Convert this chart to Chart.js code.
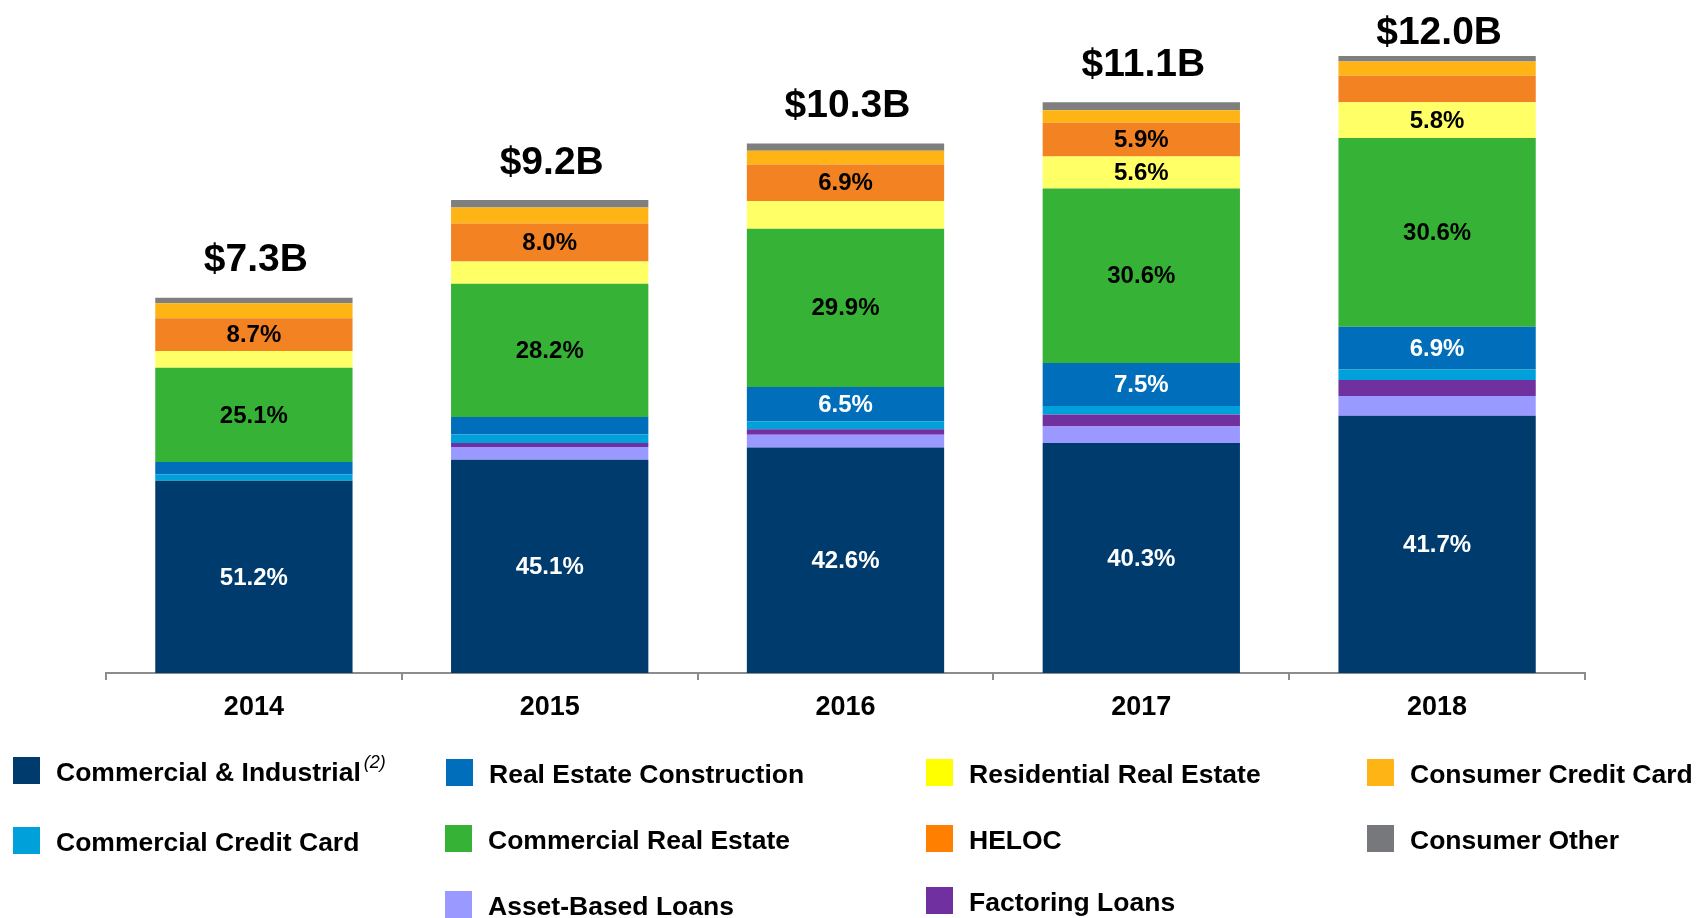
<!DOCTYPE html>
<html>
<head>
<meta charset="utf-8">
<script src="https://cdn.jsdelivr.net/npm/chart.js@4.4.1/dist/chart.umd.min.js"></script>
<style>
  html, body { margin: 0; padding: 0; background: #fff; }
  #wrap { position: relative; width: 1696px; height: 918px; overflow: hidden; }
  #c { position: absolute; left: 0; top: 0; }
  .lg { position: absolute; font-family: "Liberation Sans", Arial, sans-serif; font-weight: bold; font-size: 26.5px; color: #000; white-space: nowrap; }
  .sw { position: absolute; width: 27px; height: 27px; }
  .sup { font-style: italic; font-weight: normal; font-size: 18px; position: relative; top: -13px; margin-left: 3px; }
</style>
</head>
<body>
<div id="wrap">
  <canvas id="c" width="1696" height="918"></canvas>
  <div id="legend"></div>
</div>
<script>
// ---- Data (share of total loans, %) ----
const years = ['2014', '2015', '2016', '2017', '2018'];
const totals = [7.3, 9.2, 10.3, 11.1, 12.0];           // $B
const totalLabels = ['$7.3B', '$9.2B', '$10.3B', '$11.1B', '$12.0B'];

const commercialIndustrial = [51.2, 45.1, 42.6, 40.3, 41.7];
const assetBasedLoans      = [0.0, 2.7, 2.4, 2.9, 3.2];
const factoringLoans       = [0.0, 0.8, 1.0, 2.1, 2.6];
const commercialCreditCard = [1.7, 1.8, 1.5, 1.5, 1.7];
const realEstateConstr     = [3.3, 3.7, 6.5, 7.5, 6.9];
const commercialRealEstate = [25.1, 28.2, 29.9, 30.6, 30.6];
const residentialRealEst   = [4.5, 4.7, 5.2, 5.6, 5.8];
const heloc                = [8.7, 8.0, 6.9, 5.9, 4.3];
const consumerCreditCard   = [4.0, 3.4, 2.6, 2.2, 2.3];
const consumerOther        = [1.5, 1.6, 1.4, 1.4, 0.9];

// which segments carry a printed percentage
const labelCI  = [true, true, true, true, true];
const labelREC = [false, false, true, true, true];
const labelCRE = [true, true, true, true, true];
const labelRES = [false, false, false, true, true];
const labelHEL = [true, true, true, true, false];
const none     = [false, false, false, false, false];

const series = [
  { name: 'Commercial & Industrial', pct: commercialIndustrial, color: '#003B6E', lg: '#003B6E', show: labelCI,  txt: '#fff' },
  { name: 'Asset-Based Loans',       pct: assetBasedLoans,      color: '#9999FF', lg: '#9999FF', show: none,     txt: '#000' },
  { name: 'Factoring Loans',         pct: factoringLoans,       color: '#7030A0', lg: '#7030A0', show: none,     txt: '#000' },
  { name: 'Commercial Credit Card',  pct: commercialCreditCard, color: '#00A0DA', lg: '#00A0DA', show: none,     txt: '#000' },
  { name: 'Real Estate Construction',pct: realEstateConstr,     color: '#006EBA', lg: '#006EBA', show: labelREC, txt: '#fff' },
  { name: 'Commercial Real Estate',  pct: commercialRealEstate, color: '#36B336', lg: '#36B336', show: labelCRE, txt: '#000' },
  { name: 'Residential Real Estate', pct: residentialRealEst,   color: '#FFFF66', lg: '#FFFF00', show: labelRES, txt: '#000' },
  { name: 'HELOC',                   pct: heloc,                color: '#F38223', lg: '#FF8000', show: labelHEL, txt: '#000' },
  { name: 'Consumer Credit Card',    pct: consumerCreditCard,   color: '#FFB416', lg: '#FFB416', show: none,     txt: '#000' },
  { name: 'Consumer Other',          pct: consumerOther,        color: '#7F7F7F', lg: '#77787B', show: none,     txt: '#000' }
];

const datasets = series.map(s => ({
  label: s.name,
  data: s.pct.map((p, i) => p / 100 * totals[i]),
  backgroundColor: s.color,
  borderWidth: 0,
  categoryPercentage: 1.0,
  barPercentage: 0.667,
  _pct: s.pct, _show: s.show, _txt: s.txt
}));

const FONT = '"Liberation Sans", Arial, sans-serif';

const labelPlugin = {
  id: 'segLabels',
  afterDatasetsDraw(chart) {
    const ctx = chart.ctx;
    ctx.save();
    ctx.textAlign = 'center';
    ctx.textBaseline = 'middle';
    chart.data.datasets.forEach((ds, di) => {
      const meta = chart.getDatasetMeta(di);
      meta.data.forEach((bar, i) => {
        if (!ds._show[i]) return;
        const p = bar.getProps(['x', 'y', 'base'], true);
        ctx.fillStyle = ds._txt;
        ctx.font = 'bold 24px ' + FONT;
        ctx.fillText(ds._pct[i].toFixed(1) + '%', p.x, (p.y + p.base) / 2 + 1);
      });
    });
    // totals above the stacks
    const yScale = chart.scales.y;
    const xScale = chart.scales.x;
    ctx.fillStyle = '#000';
    ctx.font = 'bold 39px ' + FONT;
    totals.forEach((t, i) => {
      const top = yScale.getPixelForValue(t);
      const y = Math.max(top - 37, 33);
      ctx.fillText(totalLabels[i], xScale.getPixelForValue(i) + 2, y);
    });
    ctx.restore();
  }
};

new Chart(document.getElementById('c'), {
  type: 'bar',
  data: { labels: years, datasets },
  options: {
    responsive: false,
    animation: false,
    layout: { padding: { left: 106, right: 111, top: 3, bottom: 0 } },
    plugins: { legend: { display: false }, tooltip: { enabled: false } },
    scales: {
      x: {
        stacked: true,
        grid: { offset: true, drawOnChartArea: false, tickLength: 7, color: '#8C8C8C', lineWidth: 2 },
        border: { color: '#8C8C8C', width: 2 },
        ticks: { color: '#000', font: { family: FONT, size: 27, weight: 'bold' }, padding: 11 },
        afterFit(scale) { scale.height = 918 - 673; }
      },
      y: { stacked: true, display: false, min: 0, max: 13.03 }
    }
  },
  plugins: [labelPlugin]
});

// ---- HTML legend ----
const legendPos = {
  'Commercial & Industrial':  [13, 757],
  'Real Estate Construction': [446, 759],
  'Residential Real Estate':  [926, 759],
  'Consumer Credit Card':     [1367, 759],
  'Commercial Credit Card':   [13, 827],
  'Commercial Real Estate':   [445, 825],
  'HELOC':                    [926, 825],
  'Consumer Other':           [1367, 825],
  'Asset-Based Loans':        [445, 891],
  'Factoring Loans':          [926, 887]
};
const lgEl = document.getElementById('legend');
series.forEach(s => {
  const [x, y] = legendPos[s.name];
  const sw = document.createElement('div');
  sw.className = 'sw';
  sw.style.left = x + 'px'; sw.style.top = y + 'px';
  sw.style.background = s.lg;
  lgEl.appendChild(sw);
  const t = document.createElement('div');
  t.className = 'lg';
  t.style.left = (x + 43) + 'px';
  t.style.top = (y) + 'px';
  t.textContent = s.name;
  if (s.name === 'Commercial & Industrial') {
    const sup = document.createElement('span');
    sup.className = 'sup';
    sup.textContent = '(2)';
    t.appendChild(sup);
  }
  lgEl.appendChild(t);
});
</script>
</body>
</html>
